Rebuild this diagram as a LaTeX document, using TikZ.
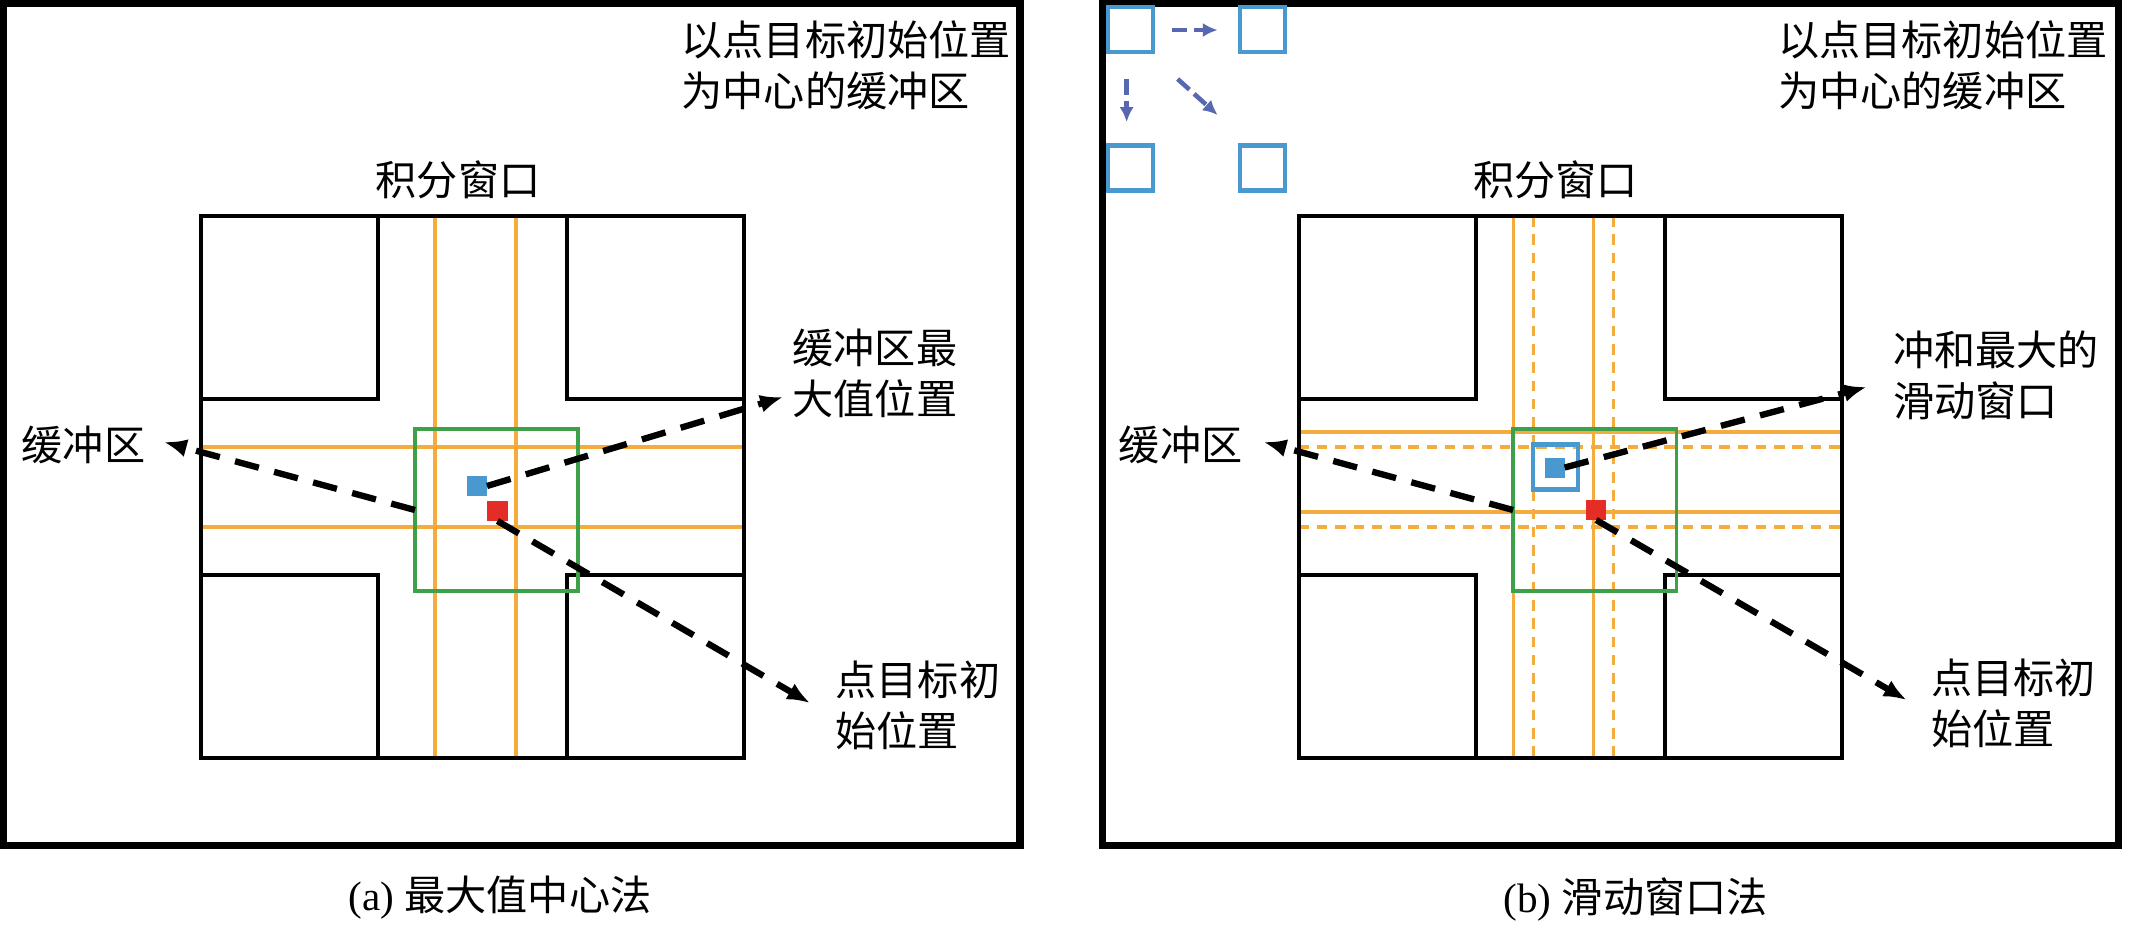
\documentclass[tikz,border=0pt]{standalone}
\usepackage{fontspec}
\setmainfont{Liberation Serif}
\newfontfamily\cjk{Noto Sans CJK SC}
\usetikzlibrary{arrows.meta}
\definecolor{orng}{RGB}{245,172,60}
\definecolor{grn}{RGB}{62,160,72}
\definecolor{sqblue}{RGB}{74,152,208}
\definecolor{arrblue}{RGB}{88,104,176}
\definecolor{redsq}{RGB}{228,45,38}
\begin{document}
\begin{tikzpicture}[x=0.01cm,y=-0.01cm,
  outerframe/.style={draw=black,line width=2pt},
  blk/.style={draw=black,line width=1.1pt},
  orl/.style={draw=orng,line width=1pt},
  ord/.style={draw=orng,line width=0.9pt,dash pattern=on 3pt off 2.2pt},
  gbox/.style={draw=grn,line width=0.95pt,minimum width=1.63cm,minimum height=1.62cm,inner sep=0pt,outer sep=0pt},
  sqdot/.style={minimum size=0.2cm,inner sep=0pt,outer sep=0pt},
  bsq/.style={draw=sqblue,line width=1.2pt,minimum size=0.45cm,inner sep=0pt,outer sep=0pt},
  darr/.style={draw=black,line width=1.8pt,dash pattern=on 7pt off 4.5pt,-{Latex[length=6.5pt,width=5.2pt]}},
  barr/.style={draw=arrblue,line width=1.3pt,dash pattern=on 4.5pt off 1.8pt,-{Latex[length=4.2pt,width=4pt]}},
  lbl/.style={font=\cjk\fontsize{11.7pt}{14.5pt}\selectfont,inner sep=0pt,align=left},
  capt/.style={font=\fontsize{11.7pt}{14pt}\selectfont,inner sep=0pt}
]
\useasboundingbox (0,0) rectangle (2129,929);

% ---------------- panel (a) ----------------
\draw[outerframe] (3.5,3.5) rectangle (1020,845);
\draw[orl] (435,216) -- (435,758);
\draw[orl] (516,216) -- (516,758);
\draw[orl] (201,447) -- (744,447);
\draw[orl] (201,527) -- (744,527);
\draw[blk] (201,216) rectangle (744,758);
\draw[blk] (201,399) -- (378,399) -- (378,216);
\draw[blk] (567,216) -- (567,399) -- (744,399);
\draw[blk] (201,575) -- (378,575) -- (378,758);
\draw[blk] (567,758) -- (567,575) -- (744,575);
\node[gbox] (ga) at (496.5,510) {};
\node[sqdot,fill=sqblue] (ba) at (477,486) {};
\node[sqdot,fill=redsq] (ra) at (497.5,511) {};

\node[lbl,anchor=north west] (ka) at (681,20) {以点目标初始位置\\为中心的缓冲区};
\node[lbl] (wa) at (458,180) {积分窗口};
\node[lbl] (ha) at (83.5,445) {缓冲区};
\node[lbl,anchor=north west] (ma) at (792,328) {缓冲区最\\大值位置};
\node[lbl,anchor=north west] (pa) at (835,660) {点目标初\\始位置};
\node[capt] (capa) at (500,898) {(a) {\cjk 最大值中心法}};

\coordinate (ta1) at (164,442);
\coordinate (ta2) at (783,397);
\coordinate (ta3) at (810,703);
\draw[darr] (ga.west) -- (ta1);
\draw[darr] (ba.east) -- (ta2);
\draw[darr] (ra.south) -- (ta3);

% ---------------- panel (b) ----------------
\begin{scope}[xshift=10.97cm]
\draw[outerframe] (4.5,3.5) rectangle (1021,845);
\draw[ord] (436,216) -- (436,758);
\draw[ord] (516,216) -- (516,758);
\draw[ord] (201,447) -- (744,447);
\draw[ord] (201,527) -- (744,527);
\draw[orl] (416,216) -- (416,758);
\draw[orl] (496,216) -- (496,758);
\draw[orl] (201,432) -- (744,432);
\draw[orl] (201,512) -- (744,512);
\draw[blk] (201,216) rectangle (744,758);
\draw[blk] (201,399) -- (378,399) -- (378,216);
\draw[blk] (567,216) -- (567,399) -- (744,399);
\draw[blk] (201,575) -- (378,575) -- (378,758);
\draw[blk] (567,758) -- (567,575) -- (744,575);
\node[gbox] (gb) at (497,510) {};
\node[bsq] (bob) at (457.5,467) {};
\node[sqdot,fill=sqblue] (bb) at (457,467.5) {};
\node[sqdot,fill=redsq] (rb) at (498.5,510) {};

\node[bsq] (sq1) at (32.5,29.5) {};
\node[bsq] (sq2) at (165,29.5) {};
\node[bsq] (sq3) at (32.5,168) {};
\node[bsq] (sq4) at (165,168) {};
\coordinate (s1a) at (74,30);
\coordinate (s1b) at (120,30);
\coordinate (s2a) at (29,79);
\coordinate (s2b) at (29,122);
\coordinate (s3a) at (80,79);
\coordinate (s3b) at (120,115);
\draw[barr] (s1a) -- (s1b);
\draw[barr] (s2a) -- (s2b);
\draw[barr] (s3a) -- (s3b);

\node[lbl,anchor=north west] (kb) at (680,20) {以点目标初始位置\\为中心的缓冲区};
\node[lbl] (wb) at (458,180) {积分窗口};
\node[lbl] (hb) at (83,445) {缓冲区};
\node[lbl,anchor=north west] (mb) at (795,330) {冲和最大的\\滑动窗口};
\node[lbl,anchor=north west] (pb) at (833,658) {点目标初\\始位置};
\node[capt] (capb) at (538,899) {(b) {\cjk 滑动窗口法}};

\coordinate (tb1) at (166,442);
\coordinate (tb2) at (769,387);
\coordinate (tb3) at (809,700);
\draw[darr] (gb.west) -- (tb1);
\draw[darr] (bb.east) -- (tb2);
\draw[darr] (rb.south) -- (tb3);
\end{scope}
\end{tikzpicture}
\end{document}
